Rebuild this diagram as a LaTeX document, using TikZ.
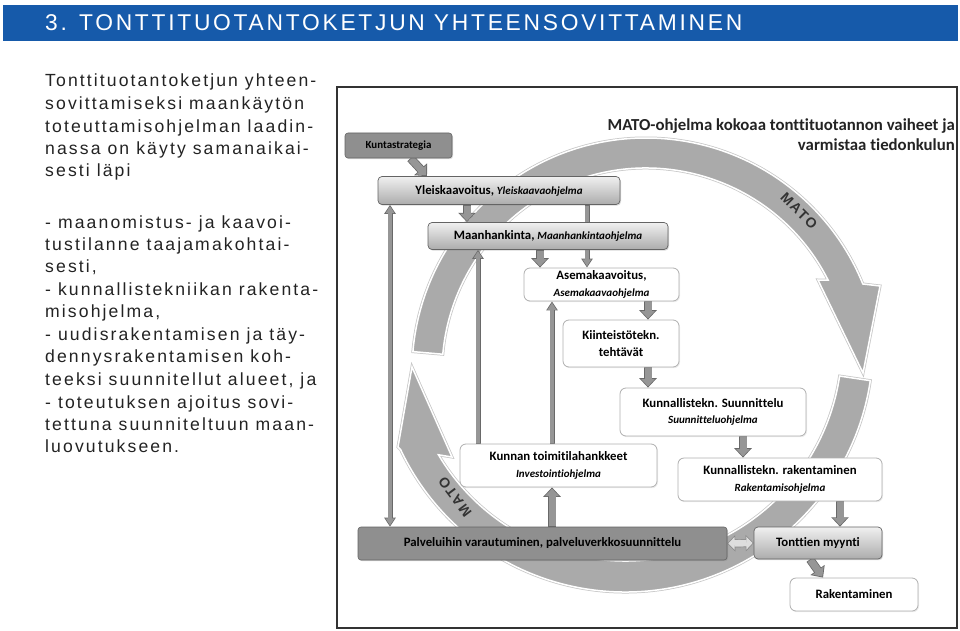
\documentclass[tikz,border=0pt]{standalone}
\definecolor{TitleBlue}{RGB}{22,90,170}
\definecolor{RingGray}{RGB}{170,170,170}
\definecolor{ArrFill}{RGB}{150,150,150}
\definecolor{ArrLine}{RGB}{105,105,105}
\definecolor{LightFill}{RGB}{222,222,222}
\definecolor{BoxDark}{RGB}{143,143,143}
\definecolor{BoxLine}{RGB}{100,100,100}
\definecolor{GTop}{RGB}{240,240,240}
\definecolor{GBot}{RGB}{172,172,172}
\definecolor{WLine}{RGB}{175,175,175}
\definecolor{TextDark}{RGB}{35,35,35}
\usepackage{fontspec}
\setmainfont{Liberation Sans}
\newfontfamily\carl[Ligatures=NoCommon]{Carlito}
\newfontfamily\spaced[LetterSpace=12]{Liberation Sans}
\usetikzlibrary{arrows.meta,shadows}
\pgfdeclarelayer{bg}
\pgfsetlayers{bg,main}
\newcommand{\prog}[1]{{\itshape\fontsize{11}{16.5}\selectfont #1}}

\begin{document}
\begin{tikzpicture}[x=1pt,y=-1pt,
                boxfont/.style={font=\carl\bfseries\fontsize{12.8}{16.5}\selectfont},
                dbox/.style={boxfont,draw=BoxLine,fill=BoxDark,rounded corners=3pt,line width=0.6pt,inner sep=0pt,align=center,
                             drop shadow={opacity=0.3,shadow xshift=1pt,shadow yshift=-1.2pt}},
                gbox/.style={boxfont,draw=BoxLine,top color=GTop,bottom color=GBot,rounded corners=4pt,line width=0.7pt,inner sep=0pt,align=center,
                             drop shadow={opacity=0.3,shadow xshift=1pt,shadow yshift=-1.2pt}},
                wbox/.style={boxfont,draw=WLine,fill=white,rounded corners=6pt,line width=0.8pt,inner sep=0pt,align=center,
                             drop shadow={opacity=0.15,shadow xshift=1pt,shadow yshift=-1.2pt}},
                ring/.style={fill=RingGray,draw=white,line width=1.5pt,preaction={draw=gray!45,line width=3pt}},
                blk/.style={draw=ArrFill,line width=7pt,shorten <=0.8pt,shorten >=1.2pt,-{Triangle[width=13.4pt,length=7.4pt]},
                            preaction={draw=ArrLine,line width=8.6pt,shorten <=0pt,shorten >=0pt,-{Triangle[width=17pt,length=9.4pt]}}},
                thin/.style={draw=ArrFill,line width=3.6pt,shorten <=0.7pt,shorten >=1.35pt,-{Triangle[width=8.5pt,length=7pt]},
                             preaction={draw=ArrLine,line width=5pt,shorten <=0pt,shorten >=0pt,-{Triangle[width=11pt,length=9pt]}}},
                thinboth/.style={draw=ArrFill,line width=3.6pt,shorten <=1.35pt,shorten >=1.35pt,
                             {Triangle[width=8.5pt,length=7pt]}-{Triangle[width=8.5pt,length=7pt]},
                             preaction={draw=ArrLine,line width=5pt,shorten <=0pt,shorten >=0pt,
                             {Triangle[width=11pt,length=9pt]}-{Triangle[width=11pt,length=9pt]}}},
                lblkboth/.style={draw=LightFill,line width=6.6pt,shorten <=1pt,shorten >=1pt,
                             {Triangle[width=12.6pt,length=6.3pt]}-{Triangle[width=12.6pt,length=6.3pt]},
                             preaction={draw=ArrLine!80,line width=8pt,shorten <=0pt,shorten >=0pt,
                             {Triangle[width=16pt,length=8pt]}-{Triangle[width=16pt,length=8pt]}}},
                lefttxt/.style={anchor=base west,inner sep=0pt,text=TextDark,font=\spaced\fontsize{17.6}{20}\selectfont},
                matolbl/.style={text=black!80,font=\spaced\bfseries\fontsize{14}{14}\selectfont,inner sep=0pt}
            ]
                \useasboundingbox (0,0) rectangle (960,631);
                % Title bar
                \fill[TitleBlue] (3,5) rectangle (958,41);
                \node[anchor=west,inner sep=0pt,text=white,font=\spaced\fontsize{22.8}{24}\selectfont] (title) at (45,23)
                    {3. TONTTITUOTANTOKETJUN YHTEENSOVITTAMINEN};
                % Left text column
                \foreach \yy/\txt [count=\i] in {87/Tonttituotantoketjun yhteen-, 110/sovittamiseksi maankäytön,
                        133/toteuttamisohjelman laadin-, 155/nassa on käyty samanaikai-, 177/sesti läpi,
                        228/- maanomistus- ja kaavoi-, 250/tustilanne taajamakohtai-, {272/sesti,},
                        295/- kunnallistekniikan rakenta-, {317/misohjelma,}, 340/- uudisrakentamisen ja täy-,
                        362/dennysrakentamisen koh-, {385/teeksi suunnitellut alueet, ja}, 408/- toteutuksen ajoitus sovi-,
                        430/tettuna suunniteltuun maan-, 452/luovutukseen.} {
                    \node[lefttxt] (t\i) at (45,\yy) {\txt};
                }
                % Diagram frame and heading
                \draw[black!80,line width=1.5pt] (337,87) rectangle (957,628);
                \node[anchor=east,align=right,inner sep=0pt,text=TextDark,font=\carl\bfseries\fontsize{16.8}{20}\selectfont] (head) at (955,135)
                    {MATO-ohjelma kokoaa tonttituotannon vaiheet ja\\varmistaa tiedonkulun};
                % Boxes
                \node[dbox,minimum width=107pt,minimum height=25pt,font=\carl\bfseries\fontsize{10.9}{12}\selectfont] (kunta) at (398.5,145.5) {Kuntastrategia};
                \node[gbox,minimum width=242pt,minimum height=28pt] (yleis) at (499,190.5) {Yleiskaavoitus, \prog{Yleiskaavaohjelma}};
                \node[gbox,minimum width=240pt,minimum height=27pt] (maan) at (548,236) {Maanhankinta, \prog{Maanhankintaohjelma}};
                \node[wbox,minimum width=155pt,minimum height=33pt] (asema) at (601.5,284.5) {Asemakaavoitus,\\\prog{Asemakaavaohjelma}};
                \node[wbox,minimum width=116pt,minimum height=47pt] (kiint) at (621,343.5) {Kiinteistötekn.\\tehtävät};
                \node[wbox,minimum width=186pt,minimum height=48pt] (ksuun) at (713,412) {Kunnallistekn. Suunnittelu\\\prog{Suunnitteluohjelma}};
                \node[wbox,minimum width=197pt,minimum height=43pt] (toimi) at (558.5,465.5) {Kunnan toimitilahankkeet\\\prog{Investointiohjelma}};
                \node[wbox,minimum width=204pt,minimum height=43pt] (krak) at (780,479.5) {Kunnallistekn. rakentaminen\\\prog{Rakentamisohjelma}};
                \node[dbox,minimum width=369pt,minimum height=33pt] (palv) at (542.5,543.5) {Palveluihin varautuminen, palveluverkkosuunnittelu};
                \node[gbox,minimum width=128pt,minimum height=32pt] (tontt) at (818,543) {Tonttien myynti};
                \node[wbox,minimum width=128pt,minimum height=33pt] (rak) at (854,594.5) {Rakentaminen};
                % MATO ring labels
                \node[matolbl,rotate=-45] (mato1) at (799,211) {MATO};
                \node[matolbl,rotate=127] (mato2) at (455,497) {MATO};
                \begin{pgfonlayer}{bg}
                    % MATO ring: upper and lower arrow
                    \draw[ring] ([shift={(-175:234)}]646,372) arc[start angle=-175,end angle=-22.1,radius=234]
                        -- (880,286) -- (863,373) -- (818,280)
                        -- ([shift={(-26.8:204)}]646,372) arc[start angle=-26.8,end angle=-175,radius=204] -- cycle;
                    \draw[ring] ([shift={(8.5:248)}]625,344) arc[start angle=8.5,end angle=154.8,radius=248]
                        -- (398,447) -- (412,367) -- (452,457)
                        -- ([shift={(149.3:217)}]625,344) arc[start angle=149.3,end angle=8.5,radius=217] -- cycle;
                    % Short block arrows
                    \draw[blk] ([xshift=12pt]kunta.south) -- ([xshift=-72pt]yleis.north);
                    \draw[blk] (467,0 |- yleis.south) -- (467,0 |- maan.north);
                    \foreach \xx/\a/\b in {540/maan/asema,648/asema/kiint,648/kiint/ksuun,743/ksuun/krak,840/krak/tontt} {
                        \draw[blk] (\xx,0 |- \a.south) -- (\xx,0 |- \b.north);
                    }
                    \draw[blk] (552,0 |- palv.north) -- (552,0 |- toimi.south);
                    \draw[blk] ([xshift=-8pt]tontt.south) -- ([xshift=-31pt]rak.north);
                    \draw[lblkboth] (palv.east) -- (tontt.west);
                    % Long thin arrows
                    \draw[thin] (587,0 |- yleis.south) -- (587,0 |- asema.north);
                    \draw[thin] (552,0 |- toimi.north) -- (552,0 |- asema.south);
                    \draw[thin] (478,0 |- toimi.north) -- (478,0 |- maan.south);
                    \draw[thinboth] (390,0 |- yleis.south) -- (390,0 |- palv.north);
                \end{pgfonlayer}
            \end{tikzpicture}
\end{document}
